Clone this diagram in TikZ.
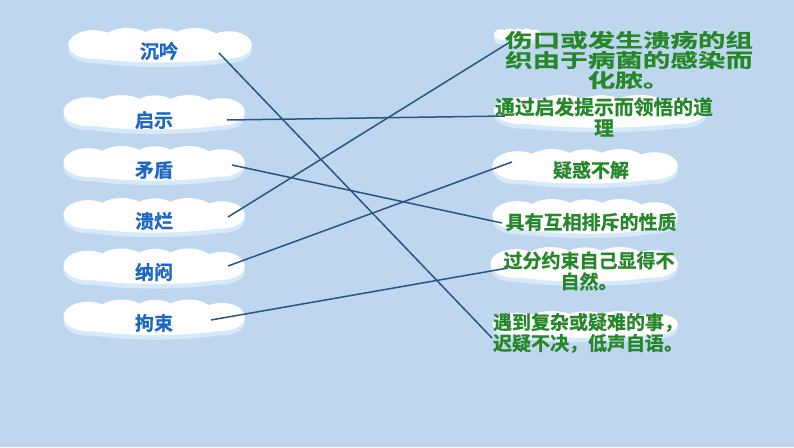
\documentclass[tikz,border=0pt]{standalone}
\usepackage{fontspec}
\newfontfamily\cjk[BoldFont={* Bold},BoldFeatures={FakeBold=0.8}]{Noto Sans CJK SC}
\definecolor{bg}{RGB}{190,215,238}
\definecolor{lblblue}{RGB}{28,102,200}
\definecolor{defgreen}{RGB}{38,135,42}
\definecolor{linkc}{RGB}{42,84,134}
\definecolor{cloudsh}{RGB}{214,233,250}
\tikzset{
  pics/cloud/.style 2 args={code={
    \foreach \dy/\cc in {4.5/cloudsh,0/white}{
      \begin{scope}[shift={(0,\dy)}]
        \fill[\cc] (0,0.1*#2) ellipse [x radius=0.5*#1*1pt, y radius=0.36*#2*1pt];
        \fill[\cc] (-0.38*#1,-0.04*#2) ellipse [x radius=0.14*#1*1pt, y radius=0.4*#2*1pt];
        \fill[\cc] (-0.19*#1,-0.08*#2) ellipse [x radius=0.15*#1*1pt, y radius=0.42*#2*1pt];
        \fill[\cc] (0,-0.06*#2) ellipse [x radius=0.14*#1*1pt, y radius=0.43*#2*1pt];
        \fill[\cc] (0.19*#1,-0.09*#2) ellipse [x radius=0.15*#1*1pt, y radius=0.41*#2*1pt];
        \fill[\cc] (0.38*#1,-0.03*#2) ellipse [x radius=0.13*#1*1pt, y radius=0.38*#2*1pt];
      \end{scope}
    }
  }}
}
\begin{document}
\begin{tikzpicture}[x=1pt,y=-1pt,
  lbl/.style={font=\cjk\bfseries\fontsize{19}{21}\selectfont, text=lblblue, inner sep=0pt},
  defn/.style={font=\cjk\bfseries\fontsize{19}{21}\selectfont, text=defgreen, align=center, inner sep=0pt},
  link/.style={draw=linkc, line width=1.5pt}]
\fill[bg] (0,0) rectangle (794,447);
\useasboundingbox (0,0) rectangle (794,447);
% left clouds
\pic at (161,46) {cloud={178}{36}};
\pic at (155,113) {cloud={176}{36}};
\pic at (155,164) {cloud={176}{36}};
\pic at (155,216) {cloud={176}{36}};
\pic at (155,267) {cloud={176}{37}};
\pic at (155,318) {cloud={176}{37}};
% right clouds
\pic at (518,35) {cloud={46}{13}};
\pic at (601,112) {cloud={206}{34}};
\pic at (586,167) {cloud={180}{36}};
\pic at (586,217) {cloud={180}{36}};
\pic at (585,265) {cloud={182}{36}};
\pic at (586,325) {cloud={180}{28}};
% connector ends
\coordinate (a1) at (219,53);
\coordinate (a2) at (227,120);
\coordinate (a3) at (232,165);
\coordinate (a4) at (228,217);
\coordinate (a5) at (228,266);
\coordinate (a6) at (211,320);
\coordinate (b1) at (510,42);
\coordinate (b2) at (505,116);
\coordinate (b3) at (512,162);
\coordinate (b4) at (502,223);
\coordinate (b5) at (508,268);
\coordinate (b6) at (492,338);
\draw[link] (a1) -- (b6);
\draw[link] (a2) -- (b2);
\draw[link] (a3) -- (b4);
\draw[link] (a4) -- (b1);
\draw[link] (a5) -- (b3);
\draw[link] (a6) -- (b5);
% left labels
\node[lbl] (w1) at (159,51) {沉吟};
\node[lbl] (w2) at (154,120) {启示};
\node[lbl] (w3) at (154,170) {矛盾};
\node[lbl] (w4) at (154,221) {溃烂};
\node[lbl] (w5) at (154,272) {纳闷};
\node[lbl] (w6) at (154,323) {拘束};
% right definitions
\node[defn, xscale=1.45, font=\cjk\bfseries\fontsize{19}{20}\selectfont] (d1) at (629,60) {伤口或发生溃疡的组\\织由于病菌的感染而\\化脓。};
\node[defn, font=\cjk\bfseries\fontsize{19.8}{21}\selectfont] (d2) at (604,117) {通过启发提示而领悟的道\\理};
\node[defn] (d3) at (591,170) {疑惑不解};
\node[defn] (d4) at (591,222) {具有互相排斥的性质};
\node[defn] (d5) at (589,271) {过分约束自己显得不\\自然。};
\node[defn] (d6) at (588,333) {遇到复杂或疑难的事，\\迟疑不决，低声自语。};
\end{tikzpicture}
\end{document}
